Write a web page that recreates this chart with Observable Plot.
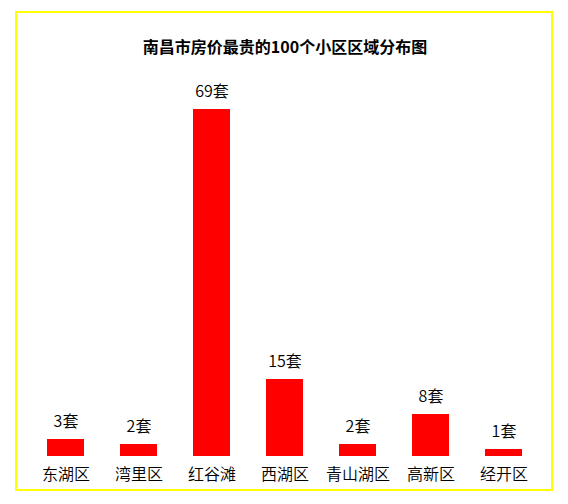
<!DOCTYPE html>
<html>
<head>
<meta charset="utf-8">
<script src="https://cdn.jsdelivr.net/npm/d3@7"></script>
<script src="https://cdn.jsdelivr.net/npm/@observablehq/plot@0.6"></script>
<style>
  html, body { margin: 0; padding: 0; background: #fff; }
  body { width: 568px; height: 504px; position: relative; overflow: hidden;
         font-family: "Noto Sans CJK SC", "Noto Sans", sans-serif; }
  #frame { position: absolute; left: 15px; top: 11px; width: 534px; height: 476px;
           border: 2px solid #ffff00; }
  #title { position: absolute; left: 0; width: 568px; top: 35px; text-align: center;
           font-size: 16px; font-weight: bold; color: #000; line-height: 22px; padding-left: 1px; }
  #chart { position: absolute; left: 0; top: 0; }
  #chart text { font-weight: 350; }
</style>
</head>
<body>
<div id="frame"></div>
<div id="title">南昌市房价最贵的100个小区区域分布图</div>
<div id="chart"></div>
<script>
const districts = ["东湖区", "湾里区", "红谷滩", "西湖区", "青山湖区", "高新区", "经开区"];
const counts = [3, 2, 69, 15, 2, 8, 1];
const unit = "套";

const data = districts.map((d, i) => ({district: d, count: counts[i]}));

const chart = Plot.plot({
  width: 568,
  height: 504,
  marginTop: 109,
  marginBottom: 50,
  marginLeft: 8,
  marginRight: 7,
  style: {fontFamily: '"Noto Sans CJK SC", "Noto Sans", sans-serif', fontSize: "16px", color: "#000", background: "transparent"},
  x: {domain: districts, padding: 0.5, label: null},
  y: {domain: [0, 69], axis: null},
  marks: [
    Plot.barY(data, {x: "district", y: "count", fill: "#ff0000", insetBottom: -2}),
    Plot.text(data, {x: "district", y: "count", text: d => d.count + unit, dy: -18, fontSize: 16, fill: "#000"}),
    Plot.axisX({tickSize: 0, tickPadding: 14, fontSize: 16, label: null, fill: "#000"})
  ]
});
document.getElementById("chart").appendChild(chart);
</script>
</body>
</html>
